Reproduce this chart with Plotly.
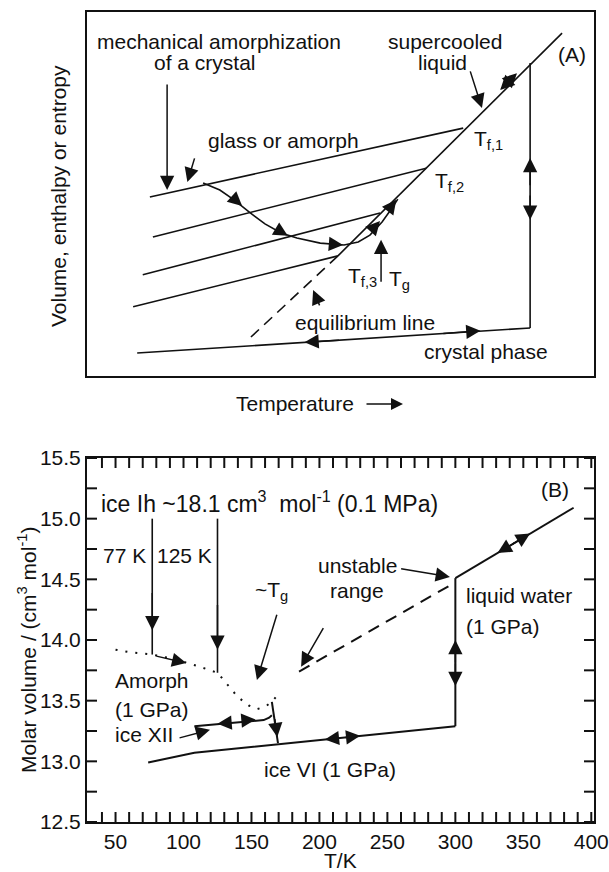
import plotly.graph_objects as go

W, H = 609, 872
FONT = "Liberation Sans, Arial, sans-serif"
INK = "#111111"
FS = 21

# ---------------- Panel A (schematic, arbitrary units 0..100) ----------------
liq_T = [93.7, 49.5]
liq_V = [94.2, 33.0]
eq_T = [49.5, 32.1]
eq_V = [33.0, 10.4]
glass_T = [[12.4, 74.2], [13.0, 66.9], [11.0, 57.8], [9.1, 49.5]]
glass_V = [[49.2, 68.1], [38.2, 57.1], [27.8, 44.8], [19.0, 33.0]]
cryst_T = [9.9, 87.4]
cryst_V = [6.3, 13.2]
melt_T = [87.4, 87.4]
melt_V = [13.2, 86.0]
path_T = [22.9, 26.2, 29.0, 32.2, 35.1, 38.3, 41.4, 46.0, 50.7, 53.5, 55.8, 58.2, 60.2, 61.3]
path_V = [53.0, 51.1, 48.4, 44.8, 41.8, 39.3, 37.9, 36.5, 36.0, 36.8, 38.7, 42.3, 46.2, 48.6]
# arrows: (tip_T, tip_V, tail_T, tail_V)
arrowsA = [
    (15.8, 51.1, 15.8, 80.5),
    (19.8, 53.3, 21.3, 60.2),
    (77.9, 73.6, 75.5, 84.1),
    (81.5, 78.6, 84.9, 83.3),
    (84.8, 83.2, 81.4, 78.5),
    (87.4, 59.9, 87.4, 52.0),
    (87.4, 42.9, 87.4, 50.0),
    (77.6, 12.4, 70.0, 11.65),
    (42.9, 9.25, 50.0, 9.88),
    (30.6, 46.7, 28.6, 49.2),
    (39.6, 38.5, 37.3, 40.4),
    (50.5, 36.0, 47.9, 36.3),
    (57.8, 42.6, 56.2, 40.1),
    (61.0, 48.4, 59.8, 46.2),
    (58.0, 37.4, 58.0, 25.5),
    (44.6, 23.6, 46.0, 19.0),
]
labelsA = [
    ("mechanical amorphization", 26.0, 91.8, "center"),
    ("of a crystal", 23.3, 86.0, "center"),
    ("supercooled", 70.6, 91.8, "center"),
    ("liquid", 70.2, 86.0, "center"),
    ("(A)", 95.7, 88.2, "center"),
    ("glass or amorph", 38.7, 64.8, "center"),
    ("T<sub>f,1</sub>", 79.1, 64.8, "center"),
    ("T<sub>f,2</sub>", 71.4, 53.3, "center"),
    ("T<sub>f,3</sub>", 54.4, 27.2, "center"),
    ("T<sub>g</sub>", 61.7, 26.4, "center"),
    ("equilibrium line", 54.8, 14.8, "center"),
    ("crystal phase", 78.7, 6.6, "center"),
]

# ---------------- Panel B (T/K vs molar volume) ----------------
amorph_T = [50, 60, 77, 90, 100, 112, 125, 133, 140, 148, 154, 160, 165, 168]
amorph_V = [13.92, 13.90, 13.88, 13.85, 13.82, 13.78, 13.73, 13.62, 13.53, 13.46, 13.43, 13.45, 13.49, 13.53]
v77_T, v77_V = [77, 77], [15.0, 13.88]
v125_T, v125_V = [125, 125], [15.0, 13.73]
xii_T = [108, 130, 150, 159, 163, 165]
xii_V = [13.29, 13.31, 13.33, 13.34, 13.36, 13.38]
drop_T, drop_V = [165, 169.5], [13.49, 13.15]
vi_T = [74, 108, 300]
vi_V = [12.99, 13.07, 13.29]
jump_T, jump_V = [300, 300], [13.29, 14.51]
water_T = [300, 387]
water_V = [14.51, 15.09]
unst_T = [185, 296]
unst_V = [13.74, 14.45]
arrowsB = [
    (77, 14.08, 77, 14.40),
    (125, 13.92, 125, 14.30),
    (102, 13.81, 79, 13.87),
    (154, 13.67, 169, 14.22),
    (296, 14.52, 259, 14.59),
    (186.5, 13.78, 203.5, 14.11),
    (119.5, 13.26, 96, 13.19),
    (125, 13.31, 136, 13.32),
    (153, 13.345, 142, 13.335),
    (169, 13.20, 167, 13.36),
    (204, 13.18, 216, 13.194),
    (230, 13.21, 218, 13.196),
    (300, 14.00, 300, 13.80),
    (300, 13.62, 300, 13.82),
    (331, 14.717, 345, 14.81),
    (355, 14.877, 341, 14.784),
]
labelsB = [
    ("ice Ih ~18.1 cm<sup>3</sup>  mol<sup>-1</sup> (0.1 MPa)", 37.5, 15.14, "left", 23),
    ("77 K", 56.8, 14.70, "center", FS),
    ("125 K", 101, 14.70, "center", FS),
    ("~T<sub>g</sub>", 165, 14.40, "center", FS),
    ("unstable", 227.7, 14.61, "center", FS),
    ("range", 227.7, 14.41, "center", FS),
    ("liquid water", 306, 14.37, "left", FS),
    ("(1 GPa)", 306, 14.11, "left", FS),
    ("(B)", 373, 15.24, "center", FS),
    ("Amorph", 48.3, 13.67, "left", FS),
    ("(1 GPa)", 48.3, 13.43, "left", FS),
    ("ice XII", 48.3, 13.22, "left", FS),
    ("ice VI (1 GPa)", 207.8, 12.93, "center", FS),
]
x_ticks = [50, 100, 150, 200, 250, 300, 350, 400]
y_ticks = [12.5, 13.0, 13.5, 14.0, 14.5, 15.0, 15.5]
X_RANGE = [29, 402]
Y_RANGE = [12.5, 15.5]
X_MINOR = 10
Y_MINOR = 0.25

xdom = [87 / W, 594 / W]
ydomB = [1 - 822 / H, 1 - 458 / H]
TICKLEN = 10
TICKW = 2

fig = go.Figure()


def line(x, y, xa, ya, width=1.6, dash="solid"):
    fig.add_trace(go.Scatter(x=x, y=y, mode="lines", xaxis=xa, yaxis=ya,
                             line=dict(color=INK, width=width, dash=dash),
                             hoverinfo="skip", showlegend=False))


# Panel A marks
line(liq_T, liq_V, "x", "y")
line(eq_T, eq_V, "x", "y", dash="11px,7px")
for gt, gv in zip(glass_T, glass_V):
    line(gt, gv, "x", "y")
line(cryst_T, cryst_V, "x", "y")
line(melt_T, melt_V, "x", "y")
line(path_T, path_V, "x", "y")

# Panel B marks
line(amorph_T, amorph_V, "x2", "y2", width=2, dash="2px,8px")
line(v77_T, v77_V, "x2", "y2")
line(v125_T, v125_V, "x2", "y2")
line(xii_T, xii_V, "x2", "y2", width=2)
line(drop_T, drop_V, "x2", "y2", width=2)
line(vi_T, vi_V, "x2", "y2", width=2)
line(jump_T, jump_V, "x2", "y2", width=2)
line(water_T, water_V, "x2", "y2", width=2)
line(unst_T, unst_V, "x2", "y2", width=2, dash="12px,8px")

# inside ticks on all four edges of panel B (axis decoration built from tick spacing)
px_per_x = (xdom[1] - xdom[0]) * W / (X_RANGE[1] - X_RANGE[0])
px_per_y = (ydomB[1] - ydomB[0]) * H / (Y_RANGE[1] - Y_RANGE[0])
dy = TICKLEN / px_per_y
dx = TICKLEN / px_per_x
tick_x, tick_y = [], []
t = 40
while t <= X_RANGE[1]:
    tick_x += [t, t, None, t, t, None]
    tick_y += [Y_RANGE[1], Y_RANGE[1] - dy, None, Y_RANGE[0], Y_RANGE[0] + dy, None]
    t += X_MINOR
v = Y_RANGE[0]
while v <= Y_RANGE[1] + 1e-9:
    tick_x += [X_RANGE[1], X_RANGE[1] - dx, None, X_RANGE[0], X_RANGE[0] + dx, None]
    tick_y += [v, v, None, v, v, None]
    v += Y_MINOR
fig.add_trace(go.Scatter(x=tick_x, y=tick_y, mode="lines", xaxis="x2", yaxis="y2",
                         line=dict(color=INK, width=TICKW), hoverinfo="skip", showlegend=False))

ann = []


def arrow(tx, ty, sx, sy, xr, yr):
    ann.append(dict(x=tx, y=ty, ax=sx, ay=sy, xref=xr, yref=yr, axref=xr, ayref=yr,
                    text="", showarrow=True, arrowhead=2, arrowsize=1.9,
                    arrowwidth=1.5, arrowcolor=INK, standoff=0, startstandoff=0))


for a in arrowsA:
    arrow(*a, "x", "y")
for a in arrowsB:
    arrow(*a, "x2", "y2")

for t_, x, y, anc in labelsA:
    ann.append(dict(x=x, y=y, xref="x", yref="y", text=t_, showarrow=False,
                    xanchor=anc, yanchor="middle", font=dict(size=FS, color=INK, family=FONT)))
for t_, x, y, anc, fs in labelsB:
    ann.append(dict(x=x, y=y, xref="x2", yref="y2", text=t_, showarrow=False,
                    xanchor=anc, yanchor="middle", font=dict(size=fs, color=INK, family=FONT)))


def paper_text(txt, px, py, angle=0):
    ann.append(dict(x=px / W, y=1 - py / H, xref="paper", yref="paper", text=txt,
                    textangle=angle, showarrow=False, xanchor="center", yanchor="middle",
                    font=dict(size=FS, color=INK, family=FONT)))


paper_text("Volume, enthalpy or entropy", 58, 196, -90)
paper_text("Temperature", 295, 403)
ann.append(dict(x=403 / W, y=1 - 404 / H, xref="paper", yref="paper", text="", showarrow=True,
                ax=-38, ay=0, arrowhead=2, arrowsize=1.6, arrowwidth=1.5, arrowcolor=INK,
                standoff=0))
paper_text("Molar volume / (cm<sup>3</sup> mol<sup>-1</sup>)", 27, 650, -90)
paper_text("T/K", 340, 860)

fig.update_layout(
    width=W, height=H, margin=dict(l=0, r=0, t=0, b=0),
    paper_bgcolor="white", plot_bgcolor="white", showlegend=False,
    font=dict(family=FONT, color=INK, size=FS),
    annotations=ann,
    xaxis=dict(domain=xdom, range=[0, 100], showgrid=False, zeroline=False,
               showticklabels=False, ticks="", showline=True, linecolor=INK, linewidth=2,
               mirror=True, anchor="y"),
    yaxis=dict(domain=[1 - 376 / H, 1 - 12 / H], range=[0, 100], showgrid=False, zeroline=False,
               showticklabels=False, ticks="", showline=True, linecolor=INK, linewidth=2,
               mirror=True, anchor="x"),
    xaxis2=dict(domain=xdom, range=X_RANGE, anchor="y2", showgrid=False, zeroline=False,
                tickvals=x_ticks, ticks="", showline=True, linecolor=INK, linewidth=2, mirror=True,
                ticklabeloverflow="allow",
                tickfont=dict(size=FS, color=INK, family=FONT), automargin=False),
    yaxis2=dict(domain=ydomB, range=Y_RANGE, anchor="x2", showgrid=False,
                zeroline=False, tickvals=y_ticks, tickformat=".1f", ticks="", showline=True,
                linecolor=INK, linewidth=2, mirror=True,
                ticklabeloverflow="allow",
                tickfont=dict(size=FS, color=INK, family=FONT), automargin=False),
)

fig.write_html("out.html")
